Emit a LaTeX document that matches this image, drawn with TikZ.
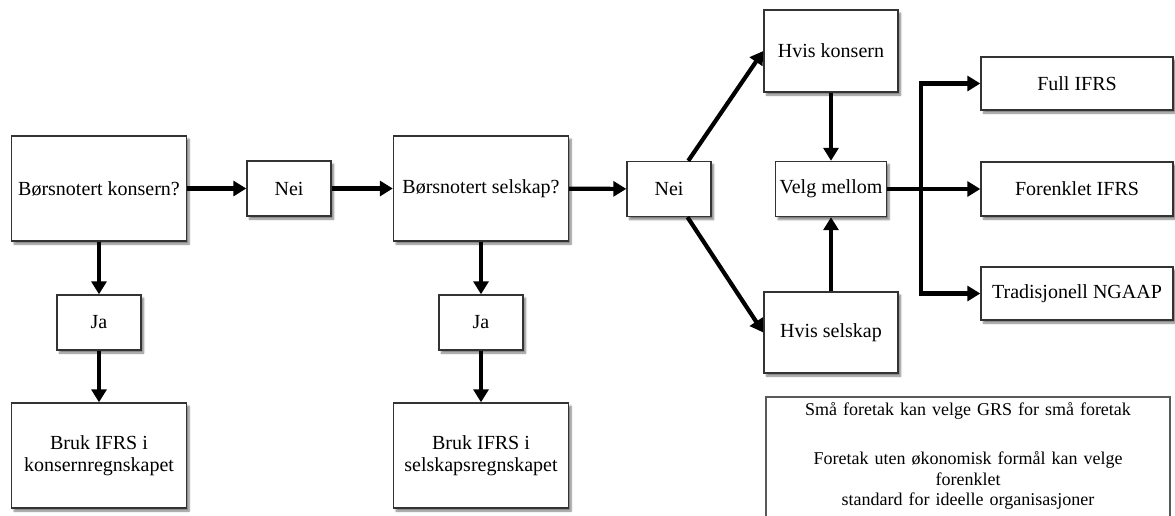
\documentclass[tikz,border=0pt]{standalone}
\usepackage{fontspec}
\setmainfont{Liberation Serif}
\usetikzlibrary{arrows.meta,shadows.blur}

\tikzset{
  flowbox/.style={draw=black!80, line width=1.4pt, fill=white, inner sep=1pt, align=center,
    font=\fontsize{20}{22.5}\selectfont,
    blur shadow={shadow xshift=2.5pt, shadow yshift=-3pt, shadow blur steps=6, shadow opacity=50}},
  flowarrow/.style={line width=4.2pt, -{Triangle[length=13pt,width=15pt]}},
  notetext/.style={inner sep=0pt, text width=400pt, align=center,
    font=\fontsize{18}{20.5}\selectfont}
}

\begin{document}
\begin{tikzpicture}[x=1pt, y=-1pt]
	\useasboundingbox (0,0) rectangle (1175,515);
	\clip (0,0) rectangle (1175,515);
	% venstre del
	\node[flowbox, minimum width=175pt, minimum height=105pt] (konsern) at (99,188.5) {Børsnotert konsern?};
	\node[flowbox, minimum width=84pt, minimum height=55pt] (nei1) at (289,188.5) {Nei};
	\node[flowbox, minimum width=84pt, minimum height=55pt] (ja1) at (99,322.5) {Ja};
	\node[flowbox, minimum width=175pt, minimum height=105pt] (brukkonsern) at (99,455.5) {Bruk IFRS i\\konsernregnskapet};
	% midten
	\node[flowbox, minimum width=175pt, minimum height=105pt] (selskap) at (481,188.5) {Børsnotert selskap?};
	\node[flowbox, minimum width=84pt, minimum height=55pt] (ja2) at (481,322.5) {Ja};
	\node[flowbox, minimum width=175pt, minimum height=105pt] (brukselskap) at (481,455.5) {Bruk IFRS i\\selskapsregnskapet};
	\node[flowbox, minimum width=84pt, minimum height=55pt] (nei2) at (669,189) {Nei};
	% valg
	\node[flowbox, minimum width=134pt, minimum height=82pt] (hviskonsern) at (831,51) {Hvis konsern};
	\node[flowbox, minimum width=111pt, minimum height=55pt] (velg) at (831,189) {Velg mellom};
	\node[flowbox, minimum width=134pt, minimum height=81pt] (hvisselskap) at (831,332.5) {Hvis selskap};
	\node[flowbox, minimum width=192pt, minimum height=53pt] (full) at (1077,83.5) {Full IFRS};
	\node[flowbox, minimum width=192pt, minimum height=54pt] (forenklet) at (1077,189) {Forenklet IFRS};
	\node[flowbox, minimum width=192pt, minimum height=53pt] (ngaap) at (1077,293.5) {Tradisjonell NGAAP};
	\coordinate (branch) at (921,189);
	% merknad
	\draw[draw=black!65, line width=1.2pt] (766,397) rectangle (1170,545);
	\node[notetext, anchor=north] (merknad) at (968,402) {Små foretak kan velge GRS for små foretak\\[29pt]Foretak uten økonomisk formål kan velge\\forenklet\\standard for ideelle organisasjoner};
	% piler
	\draw[flowarrow] (konsern) -- (nei1);
	\draw[flowarrow] (nei1) -- (selskap);
	\draw[flowarrow] (selskap) -- (nei2);
	\draw[flowarrow] (konsern) -- (ja1);
	\draw[flowarrow] (ja1) -- (brukkonsern);
	\draw[flowarrow] (selskap) -- (ja2);
	\draw[flowarrow] (ja2) -- (brukselskap);
	\draw[flowarrow] (nei2) -- (hviskonsern.west);
	\draw[flowarrow] (nei2) -- (hvisselskap.west);
	\draw[flowarrow] (hviskonsern) -- (velg);
	\draw[flowarrow] (hvisselskap) -- (velg);
	\draw[flowarrow] (velg) -- (forenklet);
	\draw[flowarrow] (branch) |- (full);
	\draw[flowarrow] (branch) |- (ngaap);
\end{tikzpicture}
\end{document}
